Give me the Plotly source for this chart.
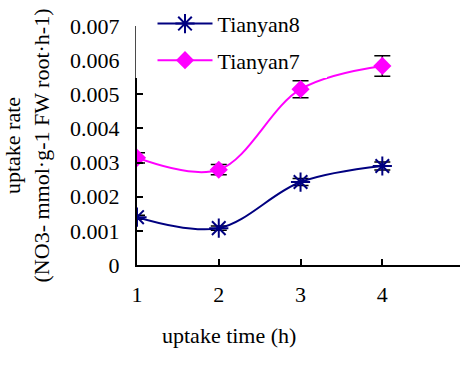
import plotly.graph_objects as go

hours = [1, 2, 3, 4]
tianyan8 = [0.00140, 0.00108, 0.00243, 0.00290]
tianyan8_err = [0.00006, 0.00006, 0.00010, 0.00012]
tianyan7 = [0.00314, 0.00279, 0.00515, 0.00583]
tianyan7_err = [0.00015, 0.00015, 0.00025, 0.00030]
y_ticks = [0, 0.001, 0.002, 0.003, 0.004, 0.005, 0.006, 0.007]
y_ticklabels = ["0", "0.001", "0.002", "0.003", "0.004", "0.005", "0.006", "0.007"]

FONT = "Liberation Serif"
FS = 22

fig = go.Figure()
fig.add_trace(go.Scatter(
    x=hours, y=tianyan8, name="Tianyan8", legendgroup="a",
    mode="lines+markers",
    line=dict(color="#000080", width=2, shape="spline", smoothing=1),
    marker=dict(symbol="asterisk-open", size=16, color="#000080",
                line=dict(color="#000080", width=2)),
    error_y=dict(type="data", array=tianyan8_err, color="black", thickness=1.5, width=8),
))
fig.add_trace(go.Scatter(
    x=hours, y=tianyan7, name="Tianyan7", legendgroup="b",
    mode="lines+markers",
    line=dict(color="#FF00FF", width=2, shape="spline", smoothing=1),
    marker=dict(symbol="diamond", size=14, color="#FF00FF"),
    error_y=dict(type="data", array=tianyan7_err, color="black", thickness=1.5, width=8),
))

fig.update_layout(
    width=463, height=365,
    margin=dict(l=137, r=3, t=26, b=100, autoexpand=False),
    paper_bgcolor="white", plot_bgcolor="white",
    font=dict(family=FONT, size=FS, color="black"),
    showlegend=True,
    legend=dict(
        x=0.048, y=1.097, xanchor="left", yanchor="top",
        bgcolor="rgba(0,0,0,0)", borderwidth=0,
        traceorder="grouped", tracegroupgap=5, itemwidth=55,
        font=dict(family=FONT, size=FS, color="black"),
    ),
    shapes=[dict(type="rect", xref="paper", yref="paper", layer="above",
                 x0=-0.004, x1=0.588, y0=0.782, y1=1.12,
                 fillcolor="white", line=dict(width=0))],
    annotations=[dict(text="uptake time (h)", xref="paper", yref="paper",
                      x=0.285, y=-0.294, xanchor="center", yanchor="middle",
                      showarrow=False, font=dict(family=FONT, size=FS))],
    xaxis=dict(
        range=[1, 4.95], tickmode="array", tickvals=hours,
        ticktext=[str(h) for h in hours], automargin=False,
        showline=True, linecolor="black", linewidth=2,
        ticks="inside", ticklen=6, tickwidth=1.5, tickcolor="black",
        showgrid=False, zeroline=False, ticklabelstandoff=9,
    ),
    yaxis=dict(
        range=[0, 0.007], tickmode="array", tickvals=y_ticks, ticktext=y_ticklabels,
        showline=True, linecolor="black", linewidth=2, automargin=False,
        ticks="inside", ticklen=6, tickwidth=1.5, tickcolor="black",
        showgrid=False, zeroline=False, ticklabelstandoff=11,
        title=dict(text="uptake rate<br>(NO3- mmol·g-1 FW root·h-1)", standoff=19,
                   font=dict(family=FONT, size=FS)),
    ),
)

fig.write_html("out.html", config={"displayModeBar": False},
               post_script="document.body.style.margin='0px';")
